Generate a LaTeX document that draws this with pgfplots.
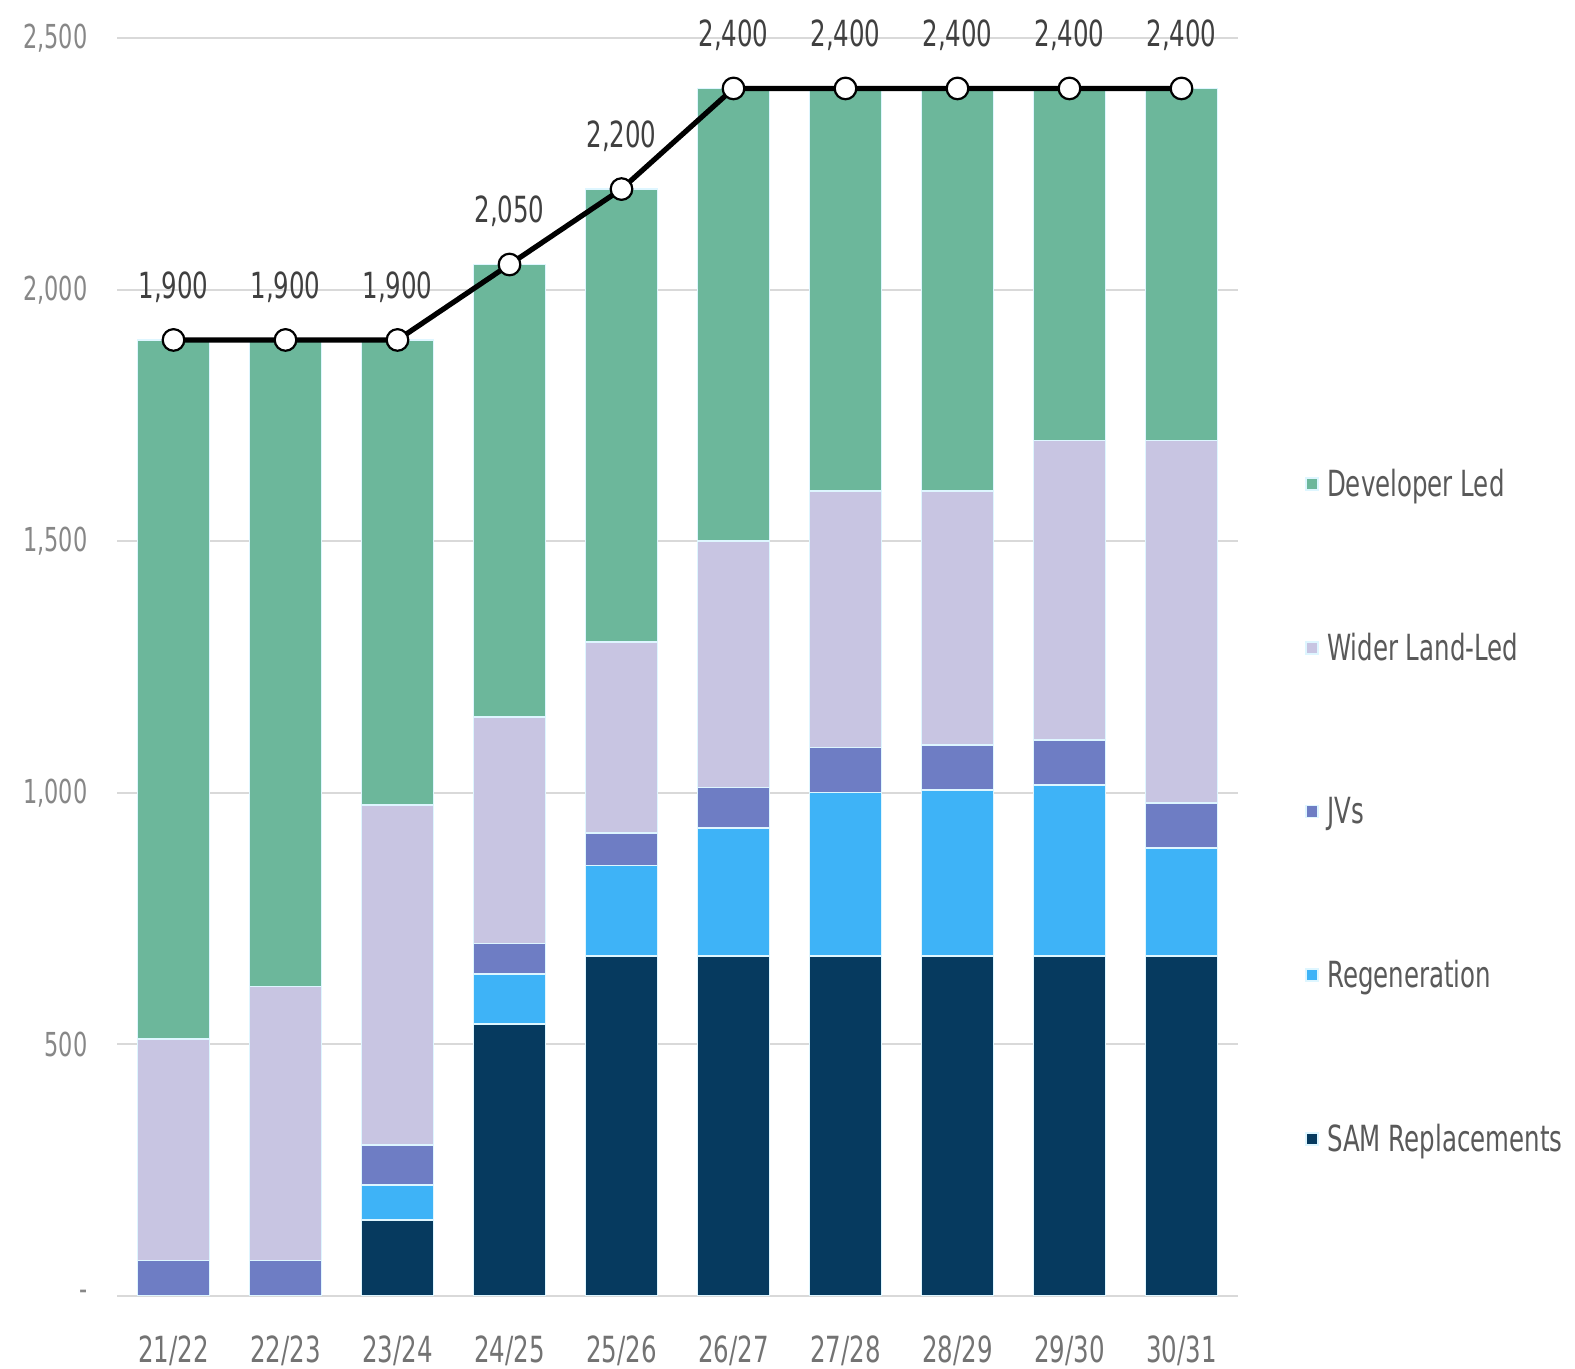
\documentclass[border=0pt]{standalone}
\usepackage{fontspec}
\setmainfont[FakeStretch=0.68]{DejaVu Sans}
\usepackage{pgfplots}
\usepackage{pgfplotstable}
\pgfplotsset{compat=1.18}

\definecolor{cDev}{RGB}{108,183,155}
\definecolor{cWid}{RGB}{200,197,226}
\definecolor{cJV}{RGB}{110,125,196}
\definecolor{cReg}{RGB}{62,179,247}
\definecolor{cSAM}{RGB}{6,58,95}
\definecolor{cEdge}{RGB}{222,246,255}
\definecolor{cGrid}{RGB}{217,217,217}
\definecolor{cTick}{RGB}{135,135,135}
\definecolor{cCat}{RGB}{115,115,115}
\definecolor{cLab}{RGB}{64,64,64}
\definecolor{cLeg}{RGB}{89,89,89}

\pgfplotstableread{
x sam reg jv wid dev tot
0 0   0   70 440 1390 1900
1 0   0   70 545 1285 1900
2 150 70  80 675 925  1900
3 540 100 60 450 900  2050
4 675 180 65 380 900  2200
5 675 255 80 490 900  2400
6 675 325 90 510 800  2400
7 675 330 90 505 800  2400
8 675 340 90 595 700  2400
9 675 215 90 720 700  2400
}\data

\begin{document}
\begin{tikzpicture}
\useasboundingbox (-58.75pt,-36.65pt) rectangle (728.75pt,647.85pt);
\begin{axis}[
  width=560pt, height=628.75pt, scale only axis,
  xmin=-0.5, xmax=9.5, ymin=0, ymax=2500,
  ybar stacked, bar width=36pt,
  axis line style={draw=none},
  major tick length=0pt,
  ymajorgrids, grid style={cGrid, line width=1pt},
  ytick={0,500,1000,1500,2000,2500},
  yticklabels={-,500,{1,000},{1,500},{2,000},{2,500}},
  yticklabel style={anchor=east, xshift=-11.5pt, font=\fontsize{16.5}{18}\selectfont, text=cTick},
  xtick={0,...,9},
  xticklabels={21/22,22/23,23/24,24/25,25/26,26/27,27/28,28/29,29/30,30/31},
  xticklabel style={anchor=center, yshift=-27.5pt, font=\fontsize{18}{20}\selectfont, text=cCat},
  reverse legend,
  legend style={draw=none, fill=none, at={(rel axis cs:1.055,0.385)}, anchor=west,
    font=\fontsize{18}{20}\selectfont, text=cLeg, row sep=62.8pt},
  legend cell align=left,
  legend image code/.code={\fill[#1] (0pt,-3pt) rectangle (6pt,3pt); \path (8pt,0pt);},
  every axis plot/.append style={draw=cEdge, line width=0.8pt},
]
\addplot[fill=cSAM] table[x=x,y=sam]\data;
\addlegendentry{SAM Replacements}
\addplot[fill=cReg] table[x=x,y=reg]\data;
\addlegendentry{Regeneration}
\addplot[fill=cJV] table[x=x,y=jv]\data;
\addlegendentry{JVs}
\addplot[fill=cWid] table[x=x,y=wid]\data;
\addlegendentry{Wider Land-Led}
\addplot[fill=cDev] table[x=x,y=dev]\data;
\addlegendentry{Developer Led}
\end{axis}
\begin{axis}[
  width=560pt, height=628.75pt, scale only axis,
  xmin=-0.5, xmax=9.5, ymin=0, ymax=2500,
  hide axis, clip=false,
  /pgf/number format/1000 sep={,},
  /pgf/number format/assume math mode=true,
]
\addplot[black, line width=2.6pt, mark=*, mark size=5.4pt,
  mark options={solid, fill=white, draw=black, line width=1.1pt},
  nodes near coords,
  nodes near coords style={anchor=center, yshift=26.5pt, font=\fontsize{18}{20}\selectfont, text=cLab},
] table[x=x,y=tot]\data;
\end{axis}
\end{tikzpicture}
\end{document}
